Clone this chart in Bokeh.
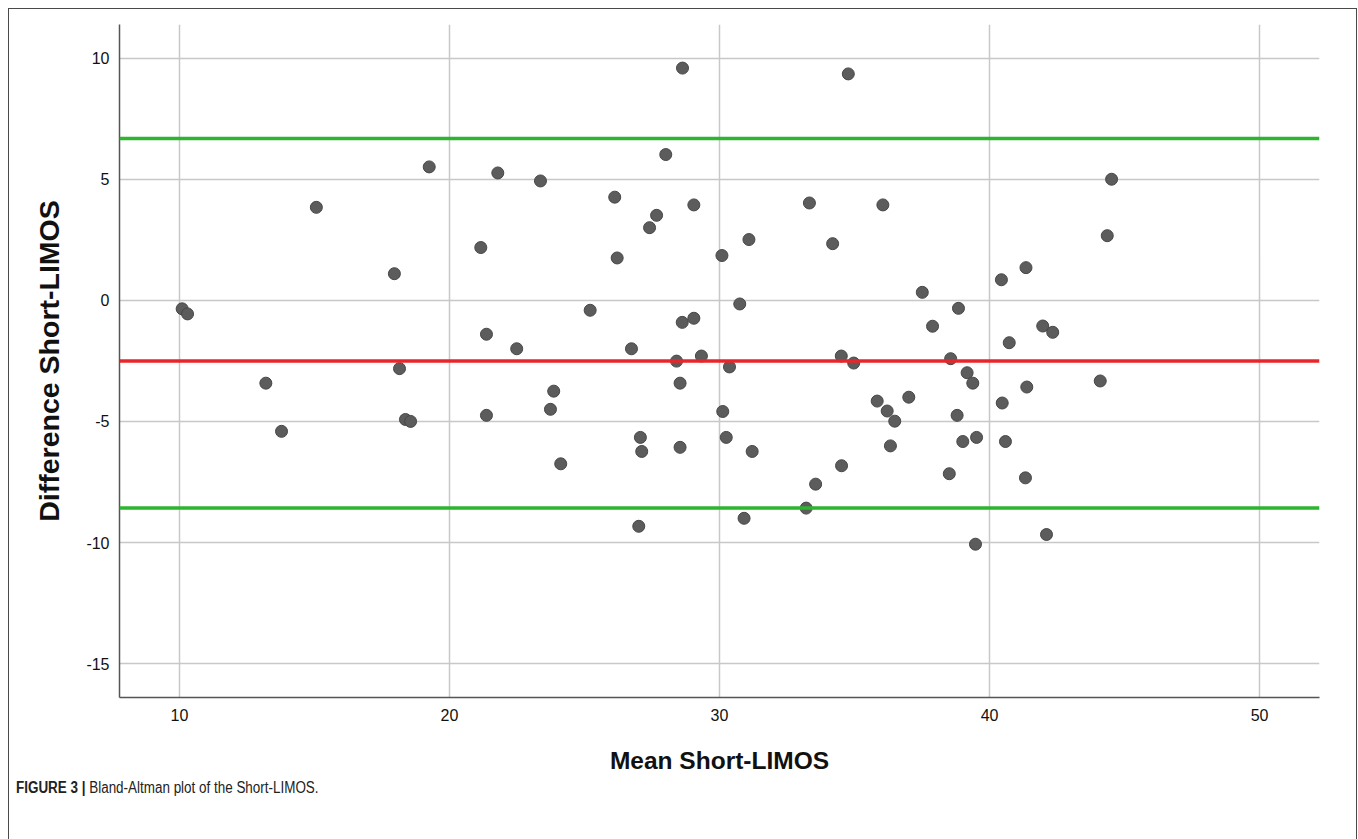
from bokeh.plotting import figure
from bokeh.models import Span, FixedTicker, Range1d, ColumnDataSource, Div
from bokeh.layouts import column
from bokeh.embed import file_html
from bokeh.resources import INLINE

# Data (mean vs difference)
mean_vals = [10.1, 10.3, 13.2, 13.78, 15.07, 17.96, 18.15, 18.37, 18.56, 19.25,
             21.16, 21.37, 21.37, 21.79, 22.49, 23.37, 23.74, 23.86, 24.12, 25.21,
             26.12, 26.21, 26.74, 27.01, 27.07, 27.12, 27.41, 27.67, 28.01, 28.41,
             28.54, 28.54, 28.62, 28.63, 29.05, 29.05, 29.33, 30.09, 30.12, 30.25,
             30.37, 30.75, 30.91, 31.09, 31.21, 33.21, 33.33, 33.56, 34.19, 34.51,
             34.52, 34.77, 34.97, 35.84, 36.05, 36.21, 36.33, 36.49, 37.01, 37.51,
             37.89, 38.51, 38.56, 38.8, 38.85, 39.01, 39.17, 39.38, 39.48, 39.52,
             40.44, 40.47, 40.59, 40.73, 41.33, 41.35, 41.38, 41.97, 42.11, 42.34,
             44.1, 44.36, 44.52]
diff_vals = [-0.35, -0.56, -3.42, -5.41, 3.84, 1.10, -2.82, -4.92, -5.0, 5.51,
             2.18, -1.40, -4.75, 5.26, -2.0, 4.93, -4.50, -3.75, -6.75, -0.41,
             4.26, 1.75, -2.0, -9.33, -5.66, -6.24, 3.0, 3.51, 6.02, -2.51,
             -3.42, -6.07, -0.91, 9.59, 3.94, -0.74, -2.30, 1.85, -4.59, -5.66,
             -2.75, -0.15, -9.0, 2.51, -6.24, -8.58, 4.02, -7.59, 2.34, -2.30,
             -6.83, 9.35, -2.59, -4.16, 3.94, -4.57, -6.01, -4.99, -4.0, 0.33,
             -1.07, -7.16, -2.41, -4.75, -0.33, -5.83, -2.99, -3.42, -10.07, -5.66,
             0.85, -4.24, -5.83, -1.75, -7.33, 1.35, -3.58, -1.06, -9.67, -1.32,
             -3.33, 2.67, 5.0]

mean_diff = -2.51
upper_loa = 6.68
lower_loa = -8.57

x_ticks = [10, 20, 30, 40, 50]
y_ticks = [-15, -10, -5, 0, 5, 10]
y_tick_labels = {-15: "-15", -10: "-10", -5: "-5", 0: "0", 5: "5", 10: "10"}

FONT = "Liberation Sans"

p = figure(width=1347, height=768, output_backend="svg", toolbar_location=None,
           x_range=Range1d(7.78, 52.22), y_range=Range1d(-16.4, 11.39),
           min_border_left=110, min_border_right=37, min_border_top=15,
           min_border_bottom=80, margin=(0, 0, 0, 0))
p.outline_line_color = None
p.background_fill_color = "white"
p.border_fill_color = "white"

src = ColumnDataSource(dict(x=mean_vals, y=diff_vals))

p.add_layout(Span(location=upper_loa, dimension="width", line_color="#2db52d", line_width=3.5))
p.add_layout(Span(location=lower_loa, dimension="width", line_color="#2db52d", line_width=3.5))
p.add_layout(Span(location=mean_diff, dimension="width", line_color="#e8262a", line_width=3.5))

p.scatter("x", "y", source=src, size=12, fill_color="#5c5c5c", line_color="#474747",
          line_width=1)

for ax in (p.xaxis[0], p.yaxis[0]):
    ax.axis_line_color = "#555555"
    ax.axis_line_width = 1.5
    ax.major_tick_line_color = None
    ax.minor_tick_line_color = None
    ax.major_label_text_font = FONT
    ax.major_label_text_font_size = "16px"
    ax.major_label_text_color = "#111111"
    ax.axis_label_text_font = FONT
    ax.axis_label_text_font_style = "bold"
    ax.axis_label_text_color = "#111111"

p.xaxis.ticker = FixedTicker(ticks=x_ticks)
p.yaxis.ticker = FixedTicker(ticks=y_ticks)
p.yaxis.major_label_overrides = y_tick_labels
p.xaxis.axis_label = "Mean Short-LIMOS"
p.yaxis.axis_label = "Difference Short-LIMOS"
p.xaxis.axis_label_text_font_size = "24.5px"
p.yaxis.axis_label_text_font_size = "28.5px"
p.xaxis.major_label_standoff = 5
p.yaxis.major_label_standoff = 4
p.xaxis.axis_label_standoff = 23
p.yaxis.axis_label_standoff = 18

p.xgrid.ticker = FixedTicker(ticks=x_ticks)
p.ygrid.ticker = FixedTicker(ticks=y_ticks)
p.grid.grid_line_color = "#c8c8c8"
p.grid.grid_line_width = 1.5

caption = Div(
    text=("<span style=\"display:inline-block; white-space:nowrap; transform:scaleX(0.84); "
          "transform-origin:left center;\"><b>FIGURE 3 |</b> "
          "Bland-Altman plot of the Short-LIMOS.</span>"),
    width=600, height=60, margin=(2, 0, 0, 7),
    styles={"font-family": "'Liberation Sans', Arial, sans-serif",
            "font-size": "16px", "color": "#222222", "line-height": "18px"})

layout = column(p, caption, margin=(8, 0, 0, 8),
                styles={"border-left": "1px solid #4a4a4a",
                        "border-right": "1px solid #4a4a4a",
                        "border-top": "1px solid #4a4a4a"})

open("out.html", "w").write(file_html(layout, INLINE))
